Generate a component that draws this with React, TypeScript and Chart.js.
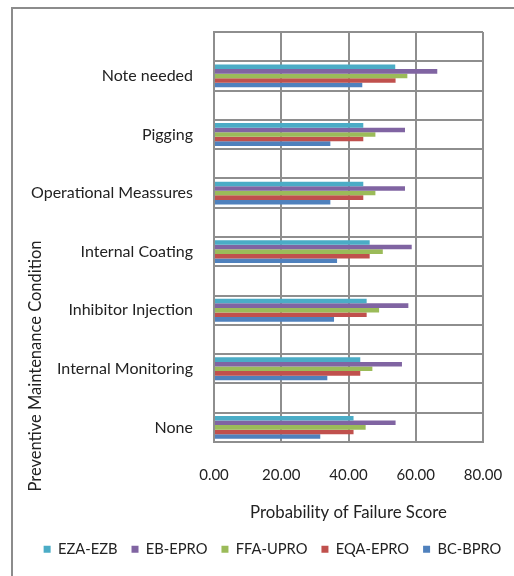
import { useEffect, useRef } from "react";
import { Chart, registerables } from "chart.js";

Chart.register(...registerables);

// Preventive maintenance conditions, top to bottom
const conditions = [
  "Note needed",
  "Pigging",
  "Operational Meassures",
  "Internal Coating",
  "Inhibitor Injection",
  "Internal Monitoring",
  "None",
];

// Probability of failure score per pipeline segment
const ezaEzb = [53.9, 44.4, 44.4, 46.3, 45.4, 43.5, 41.5];
const ebEpro = [66.4, 56.8, 56.8, 58.8, 57.8, 55.9, 54.0];
const ffaUpro = [57.5, 48.0, 48.0, 50.2, 49.1, 47.1, 45.1];
const eqaEpro = [54.0, 44.4, 44.4, 46.3, 45.4, 43.5, 41.5];
const bcBpro = [44.1, 34.6, 34.6, 36.6, 35.7, 33.7, 31.6];

const seriesNames = ["EZA-EZB", "EB-EPRO", "FFA-UPRO", "EQA-EPRO", "BC-BPRO"];
const seriesColors = ["#4BACC6", "#8064A2", "#9BBB59", "#C0504D", "#4F81BD"];

const xMin = 0;
const xMax = 80;
const xStep = 20;

const FONT = "Lato, 'Open Sans', sans-serif";
const TEXT = "#222222";
const GRID = "#8e8e8e";

// Each condition gets a blank spacer row above it, so the grid has two bands per condition
const rowLabels: string[] = [];
conditions.forEach((c) => {
  rowLabels.push("");
  rowLabels.push(c);
});
const spaced = (vals: number[]) => {
  const out: (number | null)[] = [];
  vals.forEach((v) => {
    out.push(null);
    out.push(v);
  });
  return out;
};

const yTitlePlugin = {
  id: "yTitle",
  afterDraw(chart: any) {
    const { ctx } = chart;
    ctx.save();
    ctx.translate(36, 366);
    ctx.rotate(-Math.PI / 2);
    ctx.font = `16.5px ${FONT}`;
    ctx.fillStyle = TEXT;
    ctx.textAlign = "center";
    ctx.textBaseline = "middle";
    ctx.fillText("Preventive Maintenance Condition", 0, 0);
    ctx.restore();
  },
};

export default function App() {
  const canvasRef = useRef<HTMLCanvasElement | null>(null);

  useEffect(() => {
    if (!canvasRef.current) return;
    const allSeries = [ezaEzb, ebEpro, ffaUpro, eqaEpro, bcBpro];
    const chart = new Chart(canvasRef.current, {
      type: "bar",
      data: {
        labels: rowLabels,
        datasets: allSeries.map((vals, i) => ({
          label: seriesNames[i],
          data: spaced(vals),
          xAxisID: "x",
          yAxisID: "y",
          backgroundColor: seriesColors[i],
          borderWidth: 0,
          barPercentage: 1,
          categoryPercentage: 0.78,
        })),
      },
      options: {
        indexAxis: "y",
        animation: false,
        responsive: true,
        maintainAspectRatio: false,
        layout: { padding: { top: 32, left: 1, right: 0, bottom: 9.3 } },
        plugins: {
          tooltip: { enabled: false },
          legend: {
            position: "bottom",
            labels: {
              boxWidth: 7,
              boxHeight: 7,
              padding: 14,
              color: TEXT,
              font: { family: FONT, size: 14.7 },
            },
          },
        },
        scales: {
          x: {
            min: xMin,
            max: xMax,
            ticks: {
              stepSize: xStep,
              padding: 4,
              color: TEXT,
              font: { family: FONT, size: 15 },
              callback: (v: any) => Number(v).toFixed(2),
            },
            grid: {
              color: GRID,
              lineWidth: 2,
              drawTicks: true,
              tickLength: 20,
              tickColor: "rgba(0,0,0,0)",
            },
            border: { display: true, color: GRID, width: 2 },
            title: {
              display: true,
              text: "Probability of Failure Score",
              color: TEXT,
              font: { family: FONT, size: 16.8 },
              padding: { top: 0, bottom: 5 },
            },
            afterFit: (scale: any) => {
              scale.height = 86;
            },
          },
          y: {
            offset: true,
            ticks: {
              autoSkip: false,
              padding: 21,
              color: TEXT,
              font: { family: FONT, size: 16 },
            },
            grid: { offset: true, color: GRID, lineWidth: 2, drawTicks: false },
            border: { display: true, color: GRID, width: 2 },
            afterFit: (scale: any) => {
              scale.width = 213;
            },
          },
          // empty strip that keeps the plot clear of the right edge
          yPad: {
            type: "linear",
            position: "right",
            grid: { display: false },
            ticks: { display: false },
            border: { display: false },
            afterFit: (scale: any) => {
              scale.width = 61;
            },
          },
        },
      },
      plugins: [yTitlePlugin],
    });
    return () => chart.destroy();
  }, []);

  return (
    <div
      style={{
        position: "fixed",
        left: 0,
        top: 0,
        width: 514,
        height: 576,
        overflow: "hidden",
        background: "#fff",
      }}
    >
      <div style={{ position: "absolute", left: 0, top: 0, width: 544, height: 576 }}>
        <canvas ref={canvasRef} />
      </div>
      <div
        style={{
          position: "absolute",
          left: 11,
          top: 7,
          right: 0,
          bottom: 0,
          borderTop: "2px solid #8c8c8c",
          borderLeft: "2px solid #8c8c8c",
          pointerEvents: "none",
        }}
      />
    </div>
  );
}
